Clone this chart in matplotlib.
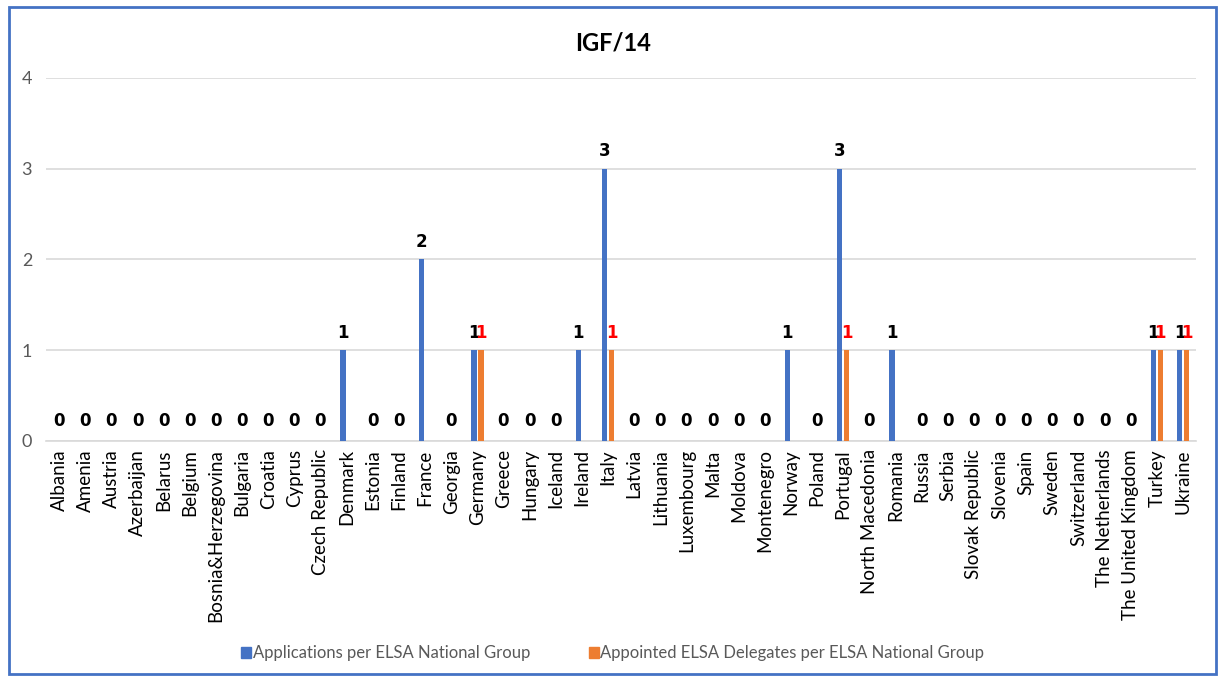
import matplotlib
matplotlib.use("Agg")
import matplotlib.pyplot as plt
import numpy as np
from matplotlib.patches import Rectangle, Patch

categories = ["Albania", "Amenia", "Austria", "Azerbaijan", "Belarus", "Belgium",
              "Bosnia&Herzegovina", "Bulgaria", "Croatia", "Cyprus", "Czech Republic",
              "Denmark", "Estonia", "Finland", "France", "Georgia", "Germany", "Greece",
              "Hungary", "Iceland", "Ireland", "Italy", "Latvia", "Lithuania", "Luxembourg",
              "Malta", "Moldova", "Montenegro", "Norway", "Poland", "Portugal",
              "North Macedonia", "Romania", "Russia", "Serbia", "Slovak Republic",
              "Slovenia", "Spain", "Sweden", "Switzerland", "The Netherlands",
              "The United Kingdom", "Turkey", "Ukraine"]
applications = [0, 0, 0, 0, 0, 0, 0, 0, 0, 0, 0,
                1, 0, 0, 2, 0, 1, 0, 0, 0, 1, 3, 0, 0, 0, 0, 0, 0,
                1, 0, 3, 0, 1, 0, 0, 0, 0, 0, 0, 0, 0, 0, 1, 1]
appointed = [0, 0, 0, 0, 0, 0, 0, 0, 0, 0, 0,
             0, 0, 0, 0, 0, 1, 0, 0, 0, 0, 1, 0, 0, 0, 0, 0, 0,
             0, 0, 1, 0, 0, 0, 0, 0, 0, 0, 0, 0, 0, 0, 1, 1]
series_names = ["Applications per ELSA National Group",
                "Appointed ELSA Delegates per ELSA National Group"]
title = "IGF/14"

blue = "#4472C4"
orange = "#ED7D31"

plt.rcParams['font.family'] = ['Lato', 'DejaVu Sans']

fig = plt.figure(figsize=(12.18, 6.77), dpi=100)
ax = fig.add_axes([0.0378, 0.3486, 0.9442, 0.5362])

x = np.arange(len(categories))
w = 0.21
off = 0.135
ax.bar(x - off, applications, width=w, color=blue, zorder=3)
ax.bar(x + off, appointed, width=w, color=orange, zorder=3)

for i in range(len(categories)):
    a, b = applications[i], appointed[i]
    if a == 0 and b == 0:
        ax.annotate("0", (x[i], 0), xytext=(0, 8), textcoords="offset points",
                    ha="center", va="bottom", fontsize=12, fontweight="bold",
                    family="DejaVu Sans", color="black")
        continue
    if a > 0:
        ax.annotate(str(a), (x[i] - off, a), xytext=(0, 6), textcoords="offset points",
                    ha="center", va="bottom", fontsize=12, fontweight="bold",
                    family="DejaVu Sans", color="black")
    if b > 0:
        ax.annotate(str(b), (x[i] + off, b), xytext=(0, 6), textcoords="offset points",
                    ha="center", va="bottom", fontsize=12, fontweight="bold",
                    family="DejaVu Sans", color="red")

ax.set_xlim(-0.5, len(categories) - 0.5)
ax.set_ylim(0, 4)
ax.set_yticks([0, 1, 2, 3, 4])
ax.set_xticks(x)
ax.set_xticklabels(categories, rotation=90, fontsize=13.5, color="black")
ax.tick_params(axis="y", length=0, labelsize=13, labelcolor="#595959", pad=10)
ax.tick_params(axis="x", length=0, pad=6)
ax.grid(axis="y", color="#d9d9d9", linewidth=1.2, zorder=0)
for s in ["top", "right", "left"]:
    ax.spines[s].set_visible(False)
ax.spines["bottom"].set_color("#d9d9d9")
ax.spines["bottom"].set_linewidth(1.2)

fig.text(0.503, 0.937, title, ha="center", va="center", fontsize=17, fontweight="bold")

handles = [Patch(color=blue), Patch(color=orange)]
fig.legend(handles, series_names, loc="center", bbox_to_anchor=(0.503, 0.035), ncol=2,
           frameon=False, fontsize=12, labelcolor="#595959", handlelength=0.6,
           handleheight=0.6, handletextpad=0.1, columnspacing=3.5)

fig.add_artist(Rectangle((0.0075, 0.004), 0.9905, 0.986, transform=fig.transFigure,
                         fill=False, edgecolor=blue, linewidth=2))

fig.savefig("out.png", dpi=100)
